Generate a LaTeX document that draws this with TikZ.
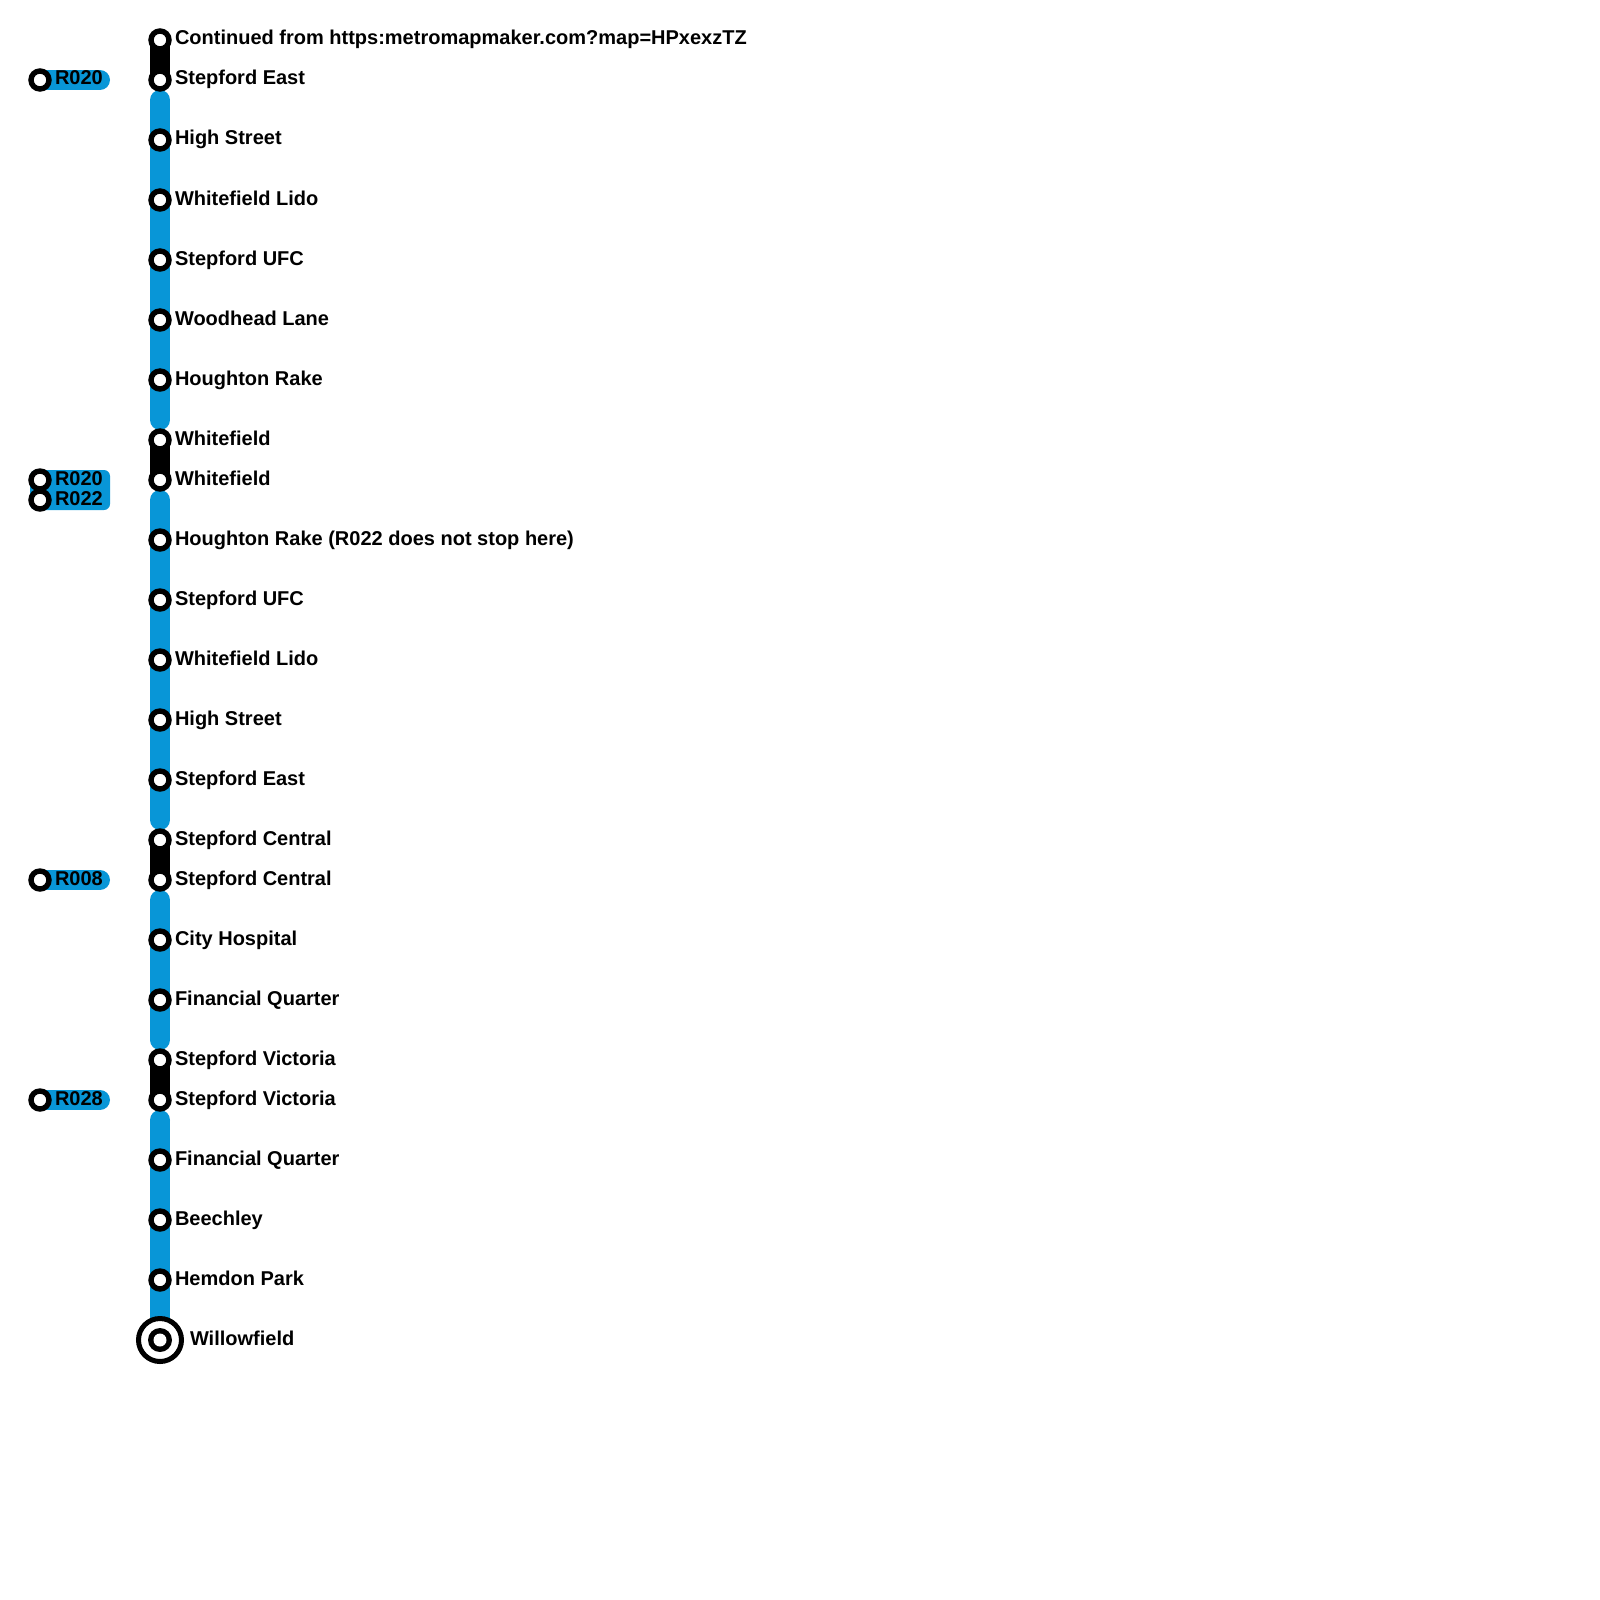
\documentclass[tikz,border=0pt]{standalone}
\usepackage{fontspec}
\setmainfont{Liberation Sans}
\usetikzlibrary{backgrounds}
\definecolor{lineblue}{HTML}{0896D7}
\tikzset{
  x=1pt,y=-1pt,
  stop/.style={circle,draw=black,fill=white,line width=5.4pt,minimum size=18pt,inner sep=0pt,outer sep=0pt},
  terminus/.style={circle,draw=black,fill=white,line width=5pt,minimum size=43pt,inner sep=0pt,outer sep=0pt},
  stoplabel/.style={anchor=base west,inner sep=0pt,outer sep=0pt,font=\bfseries\fontsize{20pt}{20pt}\selectfont,text=black},
  blueline/.style={draw=lineblue,line width=20pt,line cap=round},
  blackline/.style={draw=black,line width=20pt,line cap=round},
}
\begin{document}
\begin{tikzpicture}
\useasboundingbox (0,0) rectangle (1600,1600);

% stations on the main column
\foreach \nm/\yy/\txt in {
  a/40/{Continued from https:metromapmaker.com?map=HPxexzTZ},
  b/80/{Stepford East},
  c/140/{High Street},
  d/200/{Whitefield Lido},
  e/260/{Stepford UFC},
  f/320/{Woodhead Lane},
  g/380/{Houghton Rake},
  h/440/{Whitefield},
  i/480/{Whitefield},
  j/540/{Houghton Rake (R022 does not stop here)},
  k/600/{Stepford UFC},
  l/660/{Whitefield Lido},
  m/720/{High Street},
  n/780/{Stepford East},
  o/840/{Stepford Central},
  p/880/{Stepford Central},
  q/940/{City Hospital},
  r/1000/{Financial Quarter},
  s/1060/{Stepford Victoria},
  t/1100/{Stepford Victoria},
  u/1160/{Financial Quarter},
  v/1220/{Beechley},
  w/1280/{Hemdon Park}%
}{
  \node[stop] (\nm) at (160,\yy) {};
  \node[stoplabel] (lab\nm) at (175,\yy+5) {\txt};
}

% terminus
\node[terminus] (z) at (160,1340) {};
\node[circle,fill=black,minimum size=24pt,inner sep=0pt] (zb) at (160,1340) {};
\node[circle,fill=white,minimum size=13pt,inner sep=0pt] (zc) at (160,1340) {};
\node[stoplabel] (labz) at (190,1345) {Willowfield};

% route key stations
\foreach \nm/\yy/\txt in {ra/80/R020,rb/480/R020,rc/500/R022,rd/880/R008,re/1100/R028}{
  \node[stop] (\nm) at (40,\yy) {};
  \node[stoplabel] (lab\nm) at (55,\yy+5) {\txt};
}

% free ends of the blue lines
\coordinate (b1s) at (160,100);
\coordinate (b1e) at (160,420);
\coordinate (b2s) at (160,500);
\coordinate (b2e) at (160,820);
\coordinate (b3s) at (160,900);
\coordinate (b3e) at (160,1040);
\coordinate (b4s) at (160,1120);
\coordinate (kae) at (100,80);
\coordinate (kde) at (100,880);
\coordinate (kee) at (100,1100);

\begin{scope}[on background layer]
  \draw[blackline] (a.center) -- (b.center);
  \draw[blackline] (h.center) -- (i.center);
  \draw[blackline] (o.center) -- (p.center);
  \draw[blackline] (s.center) -- (t.center);
  \draw[blueline] (b1s) -- (b1e);
  \draw[blueline] (b2s) -- (b2e);
  \draw[blueline] (b3s) -- (b3e);
  \draw[blueline,line cap=butt] (b4s) -- (z.center);
  \fill[lineblue] (b4s) circle (10pt);
  \draw[blueline] (ra.center) -- (kae);
  \draw[blueline] (rd.center) -- (kde);
  \draw[blueline] (re.center) -- (kee);
  \fill[lineblue,rounded corners=6pt] (30,470) rectangle (110,510);
\end{scope}
\end{tikzpicture}
\end{document}
